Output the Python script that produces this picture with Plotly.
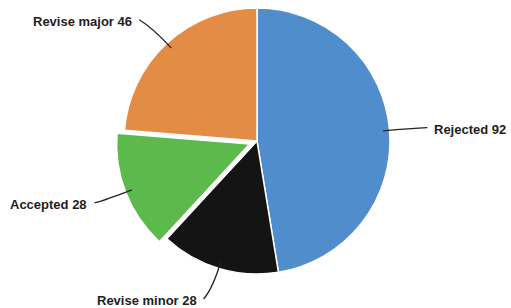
import math
import plotly.graph_objects as go

# ---- data ----
labels = ["Rejected", "Revise minor", "Accepted", "Revise major"]
values = [92, 28, 28, 46]
colors = ["#4f8dcd", "#141414", "#5cb94b", "#e38c45"]
pulls = [0, 0, 0.06, 0]

# ---- layout geometry (pixels) ----
W, H = 511, 308
CX, CY, R = 257, 141, 133
maxpull = max(pulls)
half = R * (1 + maxpull)

def px2paper(x, y):
    return x / W, 1 - y / H

fig = go.Figure(go.Pie(
    labels=labels, values=values, sort=False, direction="clockwise", rotation=0,
    pull=pulls, textinfo="none", hoverinfo="label+value",
    marker=dict(colors=colors, line=dict(color="white", width=1.5)),
    domain=dict(x=[(CX - half) / W, (CX + half) / W],
                y=[1 - (CY + half) / H, 1 - (CY - half) / H]),
    showlegend=False,
))

total = sum(values)
cum = 0
shapes, annotations = [], []
for lab, v, p in zip(labels, values, pulls):
    mid = (cum + v / 2) / total * 2 * math.pi
    cum += v
    sx, sy = math.sin(mid), -math.cos(mid)
    off = p * R
    ox, oy = CX + off * sx, CY + off * sy
    side = 1 if sx >= 0 else -1
    x0, y0 = ox + R * 0.95 * sx, oy + R * 0.95 * sy
    cx_, cy_ = ox + R * 1.16 * sx, oy + R * 1.16 * sy
    x1, y1 = ox + R * 1.24 * sx + side * 6, oy + R * 1.24 * sy
    if p > 0:
        x1, y1 = CX + R * 1.28 * sx + side * 4, CY + R * 1.28 * sy
    a = px2paper(x0, y0); b = px2paper(cx_, cy_); c = px2paper(x1, y1)
    shapes.append(dict(type="path", xref="paper", yref="paper",
                       path=f"M {a[0]},{a[1]} Q {b[0]},{b[1]} {c[0]},{c[1]}",
                       line=dict(color="#222222", width=1.3)))
    tx, ty = px2paper(x1 + side * 5, y1 + 2)
    annotations.append(dict(x=tx, y=ty, xref="paper", yref="paper",
                            text=f"<b>{lab} {v}</b>", showarrow=False,
                            xanchor="left" if side > 0 else "right", yanchor="middle",
                            font=dict(family="Liberation Sans, Arial, sans-serif", size=13, color="#1e1e1e")))

fig.update_layout(width=W, height=H, margin=dict(l=0, r=0, t=0, b=0),
                  paper_bgcolor="white", plot_bgcolor="white",
                  shapes=shapes, annotations=annotations)
fig.write_html("out.html", config={"displayModeBar": False},
               post_script="document.body.style.margin='0';document.body.style.overflow='hidden';")
